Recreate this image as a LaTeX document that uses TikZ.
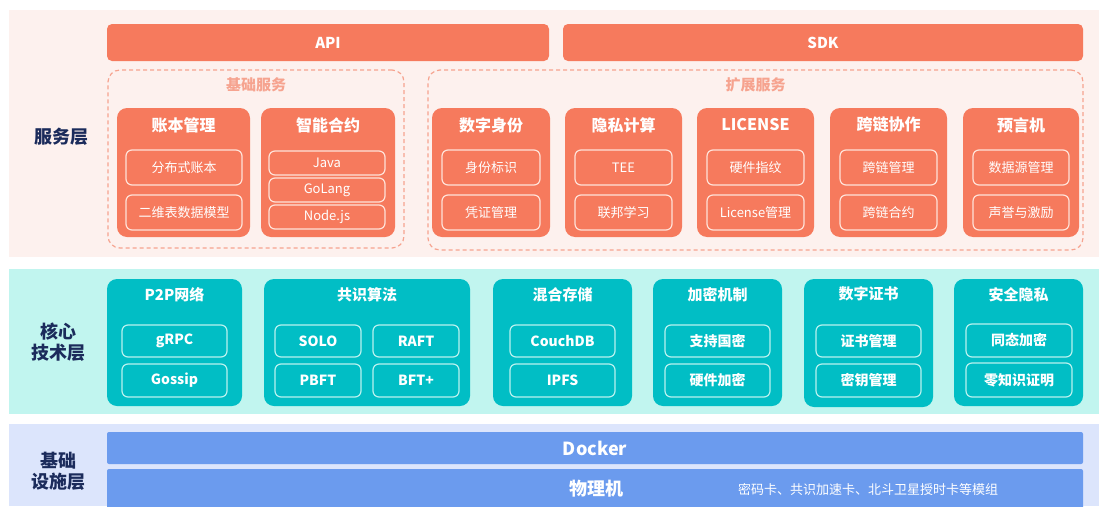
\documentclass[tikz,border=0pt]{standalone}
\usepackage{fontspec}
\setmainfont{Noto Sans CJK SC}
\definecolor{svcbg}{HTML}{FDF1EE}
\definecolor{org}{HTML}{F67A5D}
\definecolor{orgline}{HTML}{FFE2D8}
\definecolor{dashc}{HTML}{F6A38F}
\definecolor{corebg}{HTML}{C1F5EF}
\definecolor{tealc}{HTML}{01BEC5}
\definecolor{tealline}{HTML}{B8F1EF}
\definecolor{infbg}{HTML}{DCE5FC}
\definecolor{blu}{HTML}{6B9BEE}
\definecolor{navy}{HTML}{1B2B5B}
\newcommand\rb[7]{\node[#2, minimum width={#5pt-#3pt}, minimum height={#6pt-#4pt}] (#1) at ({(#3+#5)/2},{(#4+#6)/2}) {#7};}
\tikzset{
  band/.style={draw=none, inner sep=0pt, outer sep=0pt},
  layerlbl/.style={text=navy, font=\fontsize{18}{21}\selectfont\bfseries, align=center, inner sep=0pt},
  bar/.style={fill=org, draw=none, rounded corners=5pt, inner sep=0pt, text=white, font=\fontsize{15}{18}\selectfont\bfseries},
  dashbox/.style={draw=dashc, line width=1.2pt, dash pattern=on 4pt off 3pt, rounded corners=12pt, inner sep=0pt},
  grptitle/.style={text=dashc, font=\fontsize{15}{18}\selectfont\bfseries, inner sep=0pt},
  obox/.style={fill=org, draw=none, rounded corners=10pt, inner sep=0pt},
  osub/.style={draw=orgline, line width=1.2pt, rounded corners=6pt, inner sep=0pt, text=white, font=\fontsize{13}{15}\selectfont},
  otitle/.style={text=white, font=\fontsize{16}{18}\selectfont\bfseries, inner sep=0pt},
  tbox/.style={fill=tealc, draw=none, rounded corners=10pt, inner sep=0pt},
  tsub/.style={draw=tealline, line width=1.2pt, rounded corners=6pt, inner sep=0pt, text=white, font=\fontsize{14}{16}\selectfont\bfseries},
  ttitle/.style={text=white, font=\fontsize{15}{18}\selectfont\bfseries, inner sep=0pt},
  bbar/.style={fill=blu, draw=none, rounded corners=2pt, inner sep=0pt},
  btext/.style={text=white, font=\fontsize{18}{20}\selectfont\bfseries, inner sep=0pt},
  bsmall/.style={text=white, font=\fontsize{13}{15}\selectfont, inner sep=0pt},
}
\begin{document}
\begin{tikzpicture}[x=1pt,y=-1pt]
\useasboundingbox (0,0) rectangle (1099,506);
\fill[white] (0,0) rectangle (1099,506);
\clip (0,0) rectangle (1099,506);
% ---------- service layer ----------
\fill[svcbg] (9,10) rectangle (1099,257);
\node[layerlbl] (Lsvc) at (61,137) {服务层};
\rb{api}{bar}{107}{24}{549}{61}{API}
\rb{sdk}{bar}{563}{24}{1083}{61}{SDK}
\rb{g1}{dashbox}{108}{70}{404}{248}{}
\node[grptitle] (g1t) at (256,85) {基础服务};
\rb{g2}{dashbox}{428}{70}{1083}{250}{}
\node[grptitle] (g2t) at (755.5,85) {扩展服务};
% 账本管理
\rb{s1}{obox}{117}{108}{250}{237}{}
\node[otitle] (s1t) at (183.5,125) {账本管理};
\rb{s1a}{osub}{126}{150}{242}{185}{分布式账本}
\rb{s1b}{osub}{126}{195}{242}{230}{二维表数据模型}
% 智能合约
\rb{s2}{obox}{261}{108}{395}{237}{}
\node[otitle] (s2t) at (328,125) {智能合约};
\rb{s2a}{osub}{269}{151}{385}{175}{Java}
\rb{s2b}{osub}{269}{178}{385}{202}{GoLang}
\rb{s2c}{osub}{269}{205}{385}{229}{Node.js}
% 数字身份
\rb{s3}{obox}{432}{108}{550}{237}{}
\node[otitle] (s3t) at (491,125) {数字身份};
\rb{s3a}{osub}{442}{150}{540}{185}{身份标识}
\rb{s3b}{osub}{442}{195}{540}{230}{凭证管理}
% 隐私计算
\rb{s4}{obox}{565}{108}{682}{237}{}
\node[otitle] (s4t) at (623.5,125) {隐私计算};
\rb{s4a}{osub}{575}{150}{672}{185}{TEE}
\rb{s4b}{osub}{575}{195}{672}{230}{联邦学习}
% LICENSE
\rb{s5}{obox}{697}{108}{814}{237}{}
\node[otitle] (s5t) at (755.5,125) {LICENSE};
\rb{s5a}{osub}{707}{150}{804}{185}{硬件指纹}
\rb{s5b}{osub}{707}{195}{804}{230}{License管理}
% 跨链协作
\rb{s6}{obox}{830}{108}{947}{237}{}
\node[otitle] (s6t) at (888.5,124) {跨链协作};
\rb{s6a}{osub}{840}{150}{937}{185}{跨链管理}
\rb{s6b}{osub}{840}{195}{937}{230}{跨链合约}
% 预言机
\rb{s7}{obox}{963}{108}{1079}{237}{}
\node[otitle] (s7t) at (1021,125) {预言机};
\rb{s7a}{osub}{973}{150}{1069}{185}{数据源管理}
\rb{s7b}{osub}{973}{195}{1069}{230}{声誉与激励}
% ---------- core layer ----------
\fill[corebg] (9,269) rectangle (1099,414);
\node[layerlbl] (Lcore) at (58,342) {核心\\技术层};
% P2P
\rb{c1}{tbox}{107}{279}{242}{406}{}
\node[ttitle] (c1t) at (174.5,295) {P2P网络};
\rb{c1a}{tsub}{122}{325}{227}{357}{gRPC}
\rb{c1b}{tsub}{122}{364}{227}{397}{Gossip}
% 共识算法
\rb{c2}{tbox}{264}{279}{470}{406}{}
\node[ttitle] (c2t) at (367,295) {共识算法};
\rb{c2a}{tsub}{275}{325}{361}{357}{SOLO}
\rb{c2b}{tsub}{373}{325}{459}{357}{RAFT}
\rb{c2c}{tsub}{275}{364}{361}{397}{PBFT}
\rb{c2d}{tsub}{373}{364}{459}{397}{BFT+}
% 混合存储
\rb{c3}{tbox}{493}{279}{632}{406}{}
\node[ttitle] (c3t) at (562.5,295) {混合存储};
\rb{c3a}{tsub}{510}{325}{615}{357}{CouchDB}
\rb{c3b}{tsub}{510}{364}{615}{397}{IPFS}
% 加密机制
\rb{c4}{tbox}{653}{279}{782}{406}{}
\node[ttitle] (c4t) at (717.5,295) {加密机制};
\rb{c4a}{tsub}{665}{325}{770}{357}{支持国密}
\rb{c4b}{tsub}{665}{364}{770}{397}{硬件加密}
% 数字证书
\rb{c5}{tbox}{804}{279}{933}{407}{}
\node[ttitle] (c5t) at (868.5,294) {数字证书};
\rb{c5a}{tsub}{816}{325}{921}{357}{证书管理}
\rb{c5b}{tsub}{816}{364}{921}{397}{密钥管理}
% 安全隐私
\rb{c6}{tbox}{954}{279}{1083}{406}{}
\node[ttitle] (c6t) at (1018.5,295) {安全隐私};
\rb{c6a}{tsub}{966}{324}{1072}{357}{同态加密}
\rb{c6b}{tsub}{966}{363}{1072}{397}{零知识证明}
% ---------- infrastructure layer ----------
\fill[infbg] (9,424) rectangle (1099,506);
\node[layerlbl] (Linf) at (58,471) {基础\\设施层};
\rb{dock}{bbar}{107}{432}{1083}{464}{}
\node[btext] (dockt) at (595,448) {Docker};
\rb{phys}{bbar}{107}{469}{1083}{512}{}
\node[btext] (physt) at (596,489) {物理机};
\node[bsmall] (physs) at (868,489) {密码卡、共识加速卡、北斗卫星授时卡等模组};
\end{tikzpicture}
\end{document}
